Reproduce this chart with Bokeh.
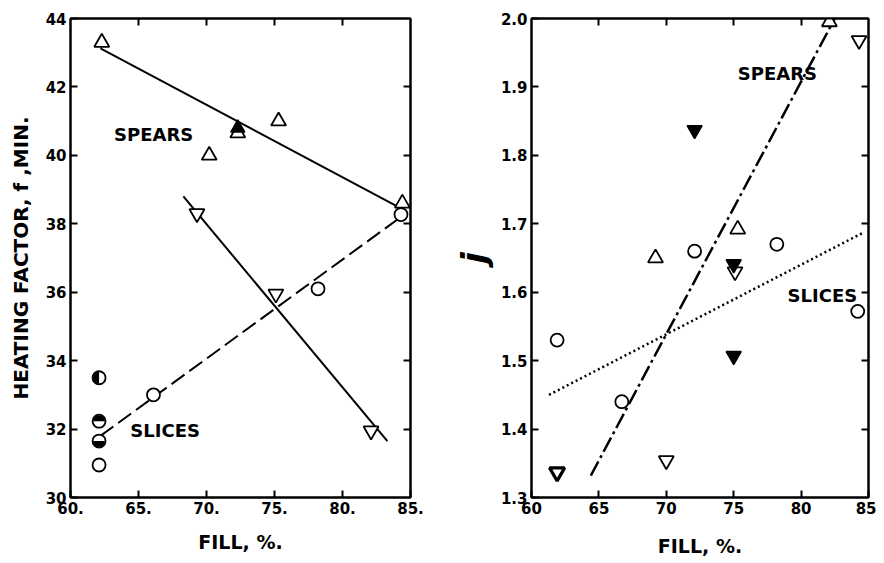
import math
from bokeh.plotting import figure
from bokeh.layouts import row
from bokeh.models import Range1d, LinearAxis, FixedTicker, Label
from bokeh.embed import file_html
from bokeh.resources import INLINE

# ---------- left panel: heating factor f ----------
L_spears_up_x = [62.3, 70.2, 72.3, 75.3, 84.4]
L_spears_up_y = [43.3, 40.0, 40.65, 41.0, 38.6]
L_spears_upfilled_x = [72.3]
L_spears_upfilled_y = [40.8]
L_spears_line_x = [62.2, 84.3]
L_spears_line_y = [43.13, 38.45]

L_down_x = [69.3, 75.1, 82.1]
L_down_y = [38.3, 35.95, 31.95]
L_down_line_x = [68.3, 83.3]
L_down_line_y = [38.8, 31.65]

L_slices_x = [62.1, 66.1, 78.2, 84.3]
L_slices_y = [30.95, 33.0, 36.1, 38.27]
L_half_x = [62.1, 62.1, 62.1]
L_half_y = [33.5, 32.23, 31.65]
L_slices_line_x = [62.2, 84.3]
L_slices_line_y = [31.8, 38.2]

L_xticks = [60, 65, 70, 75, 80, 85]
L_xlabels = ["60.", "65.", "70.", "75.", "80.", "85."]
L_yticks = [30, 32, 34, 36, 38, 40, 42, 44]

# ---------- right panel: j ----------
R_up_x = [69.2, 75.3, 82.1]
R_up_y = [1.65, 1.692, 1.995]
R_down_open_x = [84.3, 70.0, 75.1]
R_down_open_y = [1.968, 1.354, 1.63]
R_down_bold_x = [61.9]
R_down_bold_y = [1.337]
R_down_filled_x = [72.1, 75.0, 75.0]
R_down_filled_y = [1.837, 1.641, 1.507]
R_circ_x = [61.9, 66.7, 72.1, 78.2, 84.2]
R_circ_y = [1.53, 1.44, 1.66, 1.67, 1.572]
R_spears_line_x = [64.4, 82.5]
R_spears_line_y = [1.332, 2.0]
R_slices_line_x = [61.3, 84.7]
R_slices_line_y = [1.45, 1.688]

R_xticks = [60, 65, 70, 75, 80, 85]
R_yticks = [1.3, 1.4, 1.5, 1.6, 1.7, 1.8, 1.9, 2.0]
R_ylabels = ["1.3", "1.4", "1.5", "1.6", "1.7", "1.8", "1.9", "2.0"]

FONT = "DejaVu Sans"


def base_axis(ax):
    ax.major_tick_in = 7
    ax.major_tick_out = 0
    ax.minor_tick_in = 0
    ax.minor_tick_out = 0
    ax.axis_line_width = 2
    ax.major_tick_line_width = 2
    ax.axis_line_color = "black"
    ax.major_tick_line_color = "black"


def style(p, xticks, yticks, xlabels, ylabels):
    p.outline_line_color = "black"
    p.outline_line_width = 2
    p.grid.visible = False
    p.background_fill_color = "white"
    p.border_fill_color = "white"
    xa = p.below[0]
    ya = p.left[0]
    for ax in (xa, ya):
        base_axis(ax)
        ax.major_label_text_font = FONT
        ax.major_label_text_font_style = "bold"
        ax.major_label_text_font_size = "15px"
        ax.major_label_text_color = "black"
        ax.major_label_standoff = 4
        ax.axis_label_text_font = FONT
        ax.axis_label_text_font_style = "bold"
        ax.axis_label_text_font_size = "19px"
        ax.axis_label_text_color = "black"
    xa.ticker = FixedTicker(ticks=xticks)
    ya.ticker = FixedTicker(ticks=yticks)
    xa.major_label_overrides = {t: s for t, s in zip(xticks, xlabels)}
    ya.major_label_overrides = {t: s for t, s in zip(yticks, ylabels)}
    # mirrored ticks on top/right, no labels
    top = LinearAxis(ticker=FixedTicker(ticks=xticks[1:-1]))
    right = LinearAxis(ticker=FixedTicker(ticks=yticks[1:-1]))
    top.major_label_overrides = {t: "" for t in xticks[1:-1]}
    right.major_label_overrides = {t: "" for t in yticks[1:-1]}
    for ax in (top, right):
        base_axis(ax)
        ax.major_label_standoff = 0
    p.add_layout(top, "above")
    p.add_layout(right, "right")
    return xa, ya


def add_label(p, x, y, text):
    p.add_layout(Label(x=x, y=y, text=text, text_font=FONT, text_font_style="bold",
                       text_font_size="18px", text_baseline="middle", text_color="black"))


# Left figure
p1 = figure(width=448, height=559, x_range=Range1d(60, 85), y_range=Range1d(30, 44),
            output_backend="svg", toolbar_location=None,
            min_border_left=70, min_border_right=38, min_border_top=18, min_border_bottom=59)
xa1, ya1 = style(p1, L_xticks, L_yticks, L_xlabels, [str(t) for t in L_yticks])
xa1.axis_label = "FILL, %."
xa1.axis_label_standoff = 14
ya1.axis_label = "HEATING FACTOR, f ,MIN."
ya1.axis_label_text_font_size = "20px"
ya1.axis_label_standoff = 10

p1.line(L_spears_line_x, L_spears_line_y, line_color="black", line_width=2)
p1.line(L_down_line_x, L_down_line_y, line_color="black", line_width=2)
p1.line(L_slices_line_x, L_slices_line_y, line_color="black", line_width=2, line_dash="16 6")
p1.scatter(L_spears_up_x, L_spears_up_y, marker="triangle", size=15,
           fill_color="white", line_color="black", line_width=1.8)
p1.scatter(L_spears_upfilled_x, L_spears_upfilled_y, marker="triangle", size=14,
           fill_color="black", line_color="black", line_width=1.5)
p1.scatter(L_down_x, L_down_y, marker="inverted_triangle", size=15,
           fill_color="white", line_color="black", line_width=1.8)
p1.scatter(L_slices_x, L_slices_y, marker="circle", size=13,
           fill_color="white", line_color="black", line_width=1.8)
p1.scatter(L_half_x, L_half_y, marker="circle", size=13,
           fill_color="white", line_color="black", line_width=1.8)
# half-filled circles: left, top, bottom halves
p1.wedge(L_half_x, L_half_y, radius=6, radius_units="screen",
         start_angle=[math.pi / 2, 0, math.pi], end_angle=[3 * math.pi / 2, math.pi, 2 * math.pi],
         fill_color="black", line_color=None)
add_label(p1, 63.2, 40.6, "SPEARS")
add_label(p1, 64.4, 31.97, "SLICES")

# Right figure
p2 = figure(width=428, height=559, x_range=Range1d(60, 85), y_range=Range1d(1.3, 2.0),
            output_backend="svg", toolbar_location=None,
            min_border_left=83, min_border_right=8, min_border_top=18, min_border_bottom=59)
xa2, ya2 = style(p2, R_xticks, R_yticks, [str(t) for t in R_xticks], R_ylabels)
xa2.axis_label = "FILL, %."
xa2.axis_label_standoff = 18
ya2.axis_label = "j"
ya2.axis_label_text_font_size = "34px"
ya2.axis_label_text_font_style = "bold italic"
ya2.axis_label_standoff = 4

p2.line(R_spears_line_x, R_spears_line_y, line_color="black", line_width=2.5, line_dash="16 4 3 4")
p2.line(R_slices_line_x, R_slices_line_y, line_color="black", line_width=2.5, line_dash="2 3")
p2.scatter(R_up_x, R_up_y, marker="triangle", size=15,
           fill_color="white", line_color="black", line_width=1.8)
p2.scatter(R_down_open_x, R_down_open_y, marker="inverted_triangle", size=15,
           fill_color="white", line_color="black", line_width=1.8)
p2.scatter(R_down_bold_x, R_down_bold_y, marker="inverted_triangle", size=15,
           fill_color="white", line_color="black", line_width=3.2)
p2.scatter(R_down_filled_x, R_down_filled_y, marker="inverted_triangle", size=15,
           fill_color="black", line_color="black", line_width=1.5)
p2.scatter(R_circ_x, R_circ_y, marker="circle", size=13,
           fill_color="white", line_color="black", line_width=1.8)
add_label(p2, 75.3, 1.92, "SPEARS")
add_label(p2, 79.0, 1.595, "SLICES")

layout = row(p1, p2)
open("out.html", "w").write(file_html(layout, INLINE))
